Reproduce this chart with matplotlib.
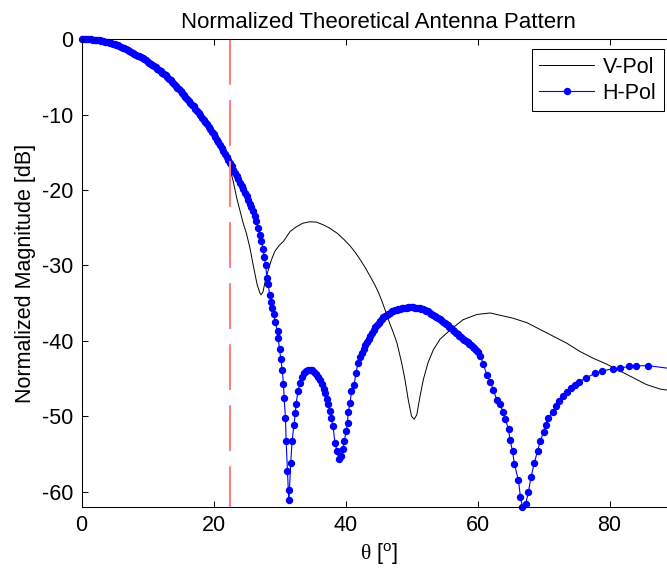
import matplotlib
matplotlib.use('Agg')
import matplotlib.pyplot as plt

plt.rcParams['font.family'] = ['Liberation Sans', 'DejaVu Sans']
plt.rcParams['axes.unicode_minus'] = False
plt.rcParams['mathtext.fontset'] = 'custom'
plt.rcParams['mathtext.rm'] = 'Liberation Serif'
plt.rcParams['mathtext.sf'] = 'Liberation Sans'

# --- data ---
# H-Pol, main lobe (markers are packed so tight they form a thick band)
theta_h_main = [0.0, 0.25, 0.5, 0.75, 1.0, 1.25, 1.5, 1.75, 2.0, 2.25, 2.5,
                2.75, 3.0, 3.25, 3.5, 3.75, 4.0, 4.25, 4.5, 4.75, 5.0, 5.25,
                5.5, 5.75, 6.0, 6.25, 6.5, 6.75, 7.0, 7.25, 7.5, 7.75, 8.0,
                8.25, 8.5, 8.75, 9.0, 9.25, 9.5, 9.75, 10.0, 10.25, 10.5,
                10.75, 11.0, 11.25, 11.5, 11.75, 12.0, 12.25, 12.5, 12.75,
                13.0, 13.25, 13.5, 13.75, 14.0, 14.25, 14.5, 14.75, 15.0,
                15.25, 15.5, 15.75, 16.0, 16.25, 16.5, 16.75, 17.0, 17.25,
                17.5, 17.75, 18.0, 18.25, 18.5, 18.75, 19.0, 19.25, 19.5,
                19.75, 20.0, 20.25, 20.5, 20.75, 21.0, 21.25, 21.5, 21.75,
                22.0, 22.25, 22.5, 22.75, 23.0, 23.25, 23.5, 23.75, 24.0,
                24.25, 24.5, 24.75, 25.0, 25.25, 25.5, 25.75, 26.0, 26.25,
                26.5, 26.75, 27.0, 27.25, 27.5, 27.7, 27.9]
hpol_main = [0.0, 0.0, 0.0, 0.0, -0.01, -0.01, -0.02, -0.03, -0.05, -0.07,
             -0.1, -0.15, -0.2, -0.25, -0.3, -0.35, -0.4, -0.45, -0.5, -0.57,
             -0.65, -0.72, -0.8, -0.9, -1.0, -1.1, -1.2, -1.3, -1.4, -1.52,
             -1.65, -1.77, -1.9, -2.02, -2.15, -2.27, -2.4, -2.52, -2.65,
             -2.8, -2.95, -3.1, -3.25, -3.4, -3.55, -3.72, -3.9, -4.07, -4.25,
             -4.42, -4.6, -4.8, -5.0, -5.2, -5.4, -5.65, -5.9, -6.15, -6.4,
             -6.65, -6.9, -7.15, -7.4, -7.65, -7.9, -8.15, -8.4, -8.65, -8.9,
             -9.2, -9.5, -9.8, -10.1, -10.4, -10.7, -11.0, -11.3, -11.6,
             -11.9, -12.25, -12.6, -12.95, -13.3, -13.65, -14.0, -14.4,
             -14.8, -15.2, -15.6, -16.0, -16.4, -16.85, -17.3, -17.7, -18.1,
             -18.55, -19.0, -19.45, -19.9, -20.35, -20.8, -21.3, -21.8, -22.3,
             -22.8, -23.45, -24.1, -25.0, -25.9, -26.8, -27.8, -28.9, -30.0]

# H-Pol, first null and first sidelobe
theta_h_side1 = [28.1, 28.3, 28.5, 28.7, 28.9, 29.2, 29.3, 29.7, 29.8, 30.0,
                 30.2, 30.4, 30.6, 30.7, 30.9, 31.0, 31.2, 31.4, 31.5, 31.7,
                 31.9, 32.2, 32.4, 32.5, 32.8, 33.1, 33.4, 33.7, 34.0, 34.3,
                 34.6, 34.9, 35.2, 35.5, 35.8, 36.1, 36.4, 36.7, 36.9, 37.2,
                 37.4, 37.6, 37.8, 38.1, 38.4, 38.7, 39.0, 39.3, 39.6, 39.8,
                 40.1, 40.3, 40.4, 40.7, 40.9, 41.3]
hpol_side1 = [-31.7, -32.5, -33.9, -34.8, -35.6, -36.5, -37.5, -38.7, -39.6,
              -41.1, -42.4, -43.8, -45.7, -47.6, -50.2, -53.3, -57.2, -61.1,
              -59.8, -56.2, -53.3, -51.1, -49.6, -48.4, -46.7, -45.6, -44.8,
              -44.3, -44.0, -43.85, -43.8, -43.9, -44.1, -44.4, -44.8, -45.2,
              -45.7, -46.4, -46.9, -47.7, -48.4, -49.3, -50.2, -51.3, -53.5,
              -54.6, -55.7, -55.3, -54.4, -53.3, -52.0, -50.9, -49.5, -48.2,
              -46.7, -45.8]

# H-Pol, second sidelobe
theta_h_side2 = [41.6, 41.9, 42.2, 42.5, 42.75, 43.0, 43.25, 43.5, 43.75,
                 44.0, 44.25, 44.5, 44.75, 45.0, 45.25, 45.5, 45.75, 46.0,
                 46.25, 46.5, 46.75, 47.0, 47.25, 47.5, 47.75, 48.0, 48.25,
                 48.5, 48.75, 49.0, 49.25, 49.5, 49.75, 50.0, 50.25, 50.5,
                 50.75, 51.0, 51.25, 51.5, 51.75, 52.0, 52.25, 52.5, 52.75,
                 53.0, 53.25, 53.5, 53.75, 54.0, 54.25, 54.5, 54.75, 55.0,
                 55.25, 55.5, 55.75, 56.0, 56.25, 56.5, 56.75, 57.0, 57.25,
                 57.5, 57.75, 58.0, 58.25, 58.5, 58.75, 59.0, 59.25, 59.5,
                 59.75, 60.0]
hpol_side2 = [-44.2, -42.9, -42.2, -41.6, -41.1, -40.5, -40.1, -39.7, -39.3,
              -38.9, -38.55, -38.2, -37.9, -37.6, -37.35, -37.1, -36.9, -36.7,
              -36.55, -36.4, -36.25, -36.1, -36.02, -35.95, -35.87, -35.8,
              -35.75, -35.7, -35.65, -35.6, -35.58, -35.55, -35.55, -35.55,
              -35.55, -35.6, -35.6, -35.65, -35.7, -35.75, -35.82, -35.9,
              -36.0, -36.1, -36.25, -36.4, -36.55, -36.7, -36.85, -37.0,
              -37.15, -37.3, -37.45, -37.6, -37.75, -37.9, -38.1, -38.3,
              -38.5, -38.7, -38.9, -39.1, -39.3, -39.5, -39.7, -39.9, -40.05,
              -40.2, -40.4, -40.6, -40.8, -41.0, -41.25, -41.5]

# H-Pol, third null and tail
theta_h_side3 = [60.4, 60.9, 61.4, 61.9, 62.4, 62.9, 63.4, 63.9, 64.2, 64.7,
                 64.9, 65.3, 65.6, 66.2, 66.5, 66.8, 67.3, 67.7, 68.1, 68.6,
                 69.1, 69.5, 70.0, 70.3, 70.7, 71.4, 71.9, 72.4, 72.9, 73.5,
                 74.1, 74.8, 75.4, 76.5, 77.8, 78.8, 80.6, 81.6, 82.9, 84.0,
                 85.9, 89.5]
hpol_side3 = [-42.0, -43.1, -44.5, -45.4, -46.5, -47.8, -48.4, -49.5, -50.4,
              -51.7, -53.1, -54.6, -56.4, -58.5, -60.7, -62.0, -61.6, -60.1,
              -58.1, -56.2, -54.6, -53.3, -52.1, -51.1, -50.2, -49.5, -48.7,
              -48.0, -47.3, -46.8, -46.2, -45.8, -45.4, -44.9, -44.3, -44.0,
              -43.7, -43.6, -43.4, -43.3, -43.3, -43.7]

theta_v = [0, 1, 2, 3, 4, 5, 6, 7, 8, 9, 10, 11, 12, 13, 14, 15, 16, 17, 18,
           19, 20, 21, 22, 22.5, 23.0, 23.5, 24.0, 24.5, 25.0, 25.5, 26.0,
           26.3, 26.6, 27.0, 27.2, 27.5, 27.8, 28.1, 28.5, 28.8, 29.3, 30.0,
           30.6, 31.6, 32.5, 33.5, 34.6, 35.6, 36.6, 37.5, 38.7, 39.7, 40.7,
           41.5, 42.2, 43.0, 43.7, 44.4, 45.0, 45.5, 46.0, 46.7, 47.2, 47.8,
           48.5, 49.0, 49.5, 50.0, 50.4, 50.8, 51.3, 51.8, 52.5, 53.3, 54.3,
           55.8, 57.8, 59.9, 61.9, 63.4, 65.4, 67.5, 69.5, 71.5, 73.5, 75.5,
           77.5, 79.6, 81.6, 83.6, 85.6, 87.7, 90.0]
vpol_db = [0.0, 0.0, -0.05, -0.2, -0.4, -0.65, -1.0, -1.4, -1.9, -2.4, -2.95,
           -3.55, -4.25, -5.0, -5.9, -6.9, -7.9, -8.9, -10.1, -11.3, -12.6,
           -14.1, -15.9, -17.2, -18.9, -21.0, -22.7, -24.4, -25.8, -27.6,
           -29.9, -31.2, -32.5, -33.6, -33.9, -33.5, -32.2, -31.2, -30.0,
           -29.2, -28.1, -27.3, -26.8, -25.5, -24.9, -24.4, -24.2, -24.25,
           -24.6, -25.0, -25.7, -26.5, -27.4, -28.3, -29.2, -30.3, -31.4,
           -32.5, -33.6, -34.7, -35.9, -37.7, -38.8, -40.3, -42.9, -45.1,
           -47.8, -50.0, -50.4, -49.8, -47.3, -45.1, -42.9, -41.2, -39.8,
           -38.6, -37.2, -36.5, -36.3, -36.6, -37.0, -37.6, -38.5, -39.4,
           -40.3, -41.4, -42.3, -43.1, -44.0, -44.9, -45.8, -46.4, -46.7]

beam_edge = 22.5
x_ticks = [0, 20, 40, 60, 80]
y_ticks = [0, -10, -20, -30, -40, -50, -60]

theta_h = theta_h_main + theta_h_side1 + theta_h_side2 + theta_h_side3
hpol_db = hpol_main + hpol_side1 + hpol_side2 + hpol_side3

fig = plt.figure(figsize=(6.67, 5.73), dpi=100)
# axes run past the right edge of the image, as in the reference crop
ax = fig.add_axes([0.1222, 0.1157, 0.8906, 0.8157])

ax.plot(theta_v, vpol_db, color='black', lw=0.7, label='V-Pol')
ax.plot(theta_h, hpol_db, color='#0000ff', lw=0.8, marker='o', ms=4.3,
        mec='#0000ff', label='H-Pol', clip_on=False)
ax.plot([beam_edge, beam_edge], [0, -62], color='#ff8080', lw=1.5,
        dashes=(22, 7.3))

ax.set_xlim(0, 90)
ax.set_ylim(-62, 0)
ax.set_xticks(x_ticks)
ax.set_yticks(y_ticks)
ax.tick_params(direction='in', length=4.3, width=0.75, labelsize=15.5,
               top=True, right=True, pad=6)
for s in ax.spines.values():
    s.set_linewidth(0.75)

ax.set_title('Normalized Theoretical Antenna Pattern', fontsize=16, pad=8)
ax.set_ylabel('Normalized Magnitude [dB]', fontsize=15.5)
ax.set_xlabel(r'$\mathrm{\theta}$ [$^{\mathsf{o}}$]', fontsize=15.5)

leg = ax.legend(loc='upper left', bbox_to_anchor=(531.7 / 667, 1 - 49 / 573),
                bbox_transform=fig.transFigure, borderaxespad=0, fontsize=15.5,
                numpoints=1, handlelength=2.55, handletextpad=0.4,
                labelspacing=0.25, borderpad=0.35, fancybox=False,
                framealpha=1, edgecolor='black')
leg.get_frame().set_linewidth(0.75)

fig.savefig('out.png', dpi=100)
